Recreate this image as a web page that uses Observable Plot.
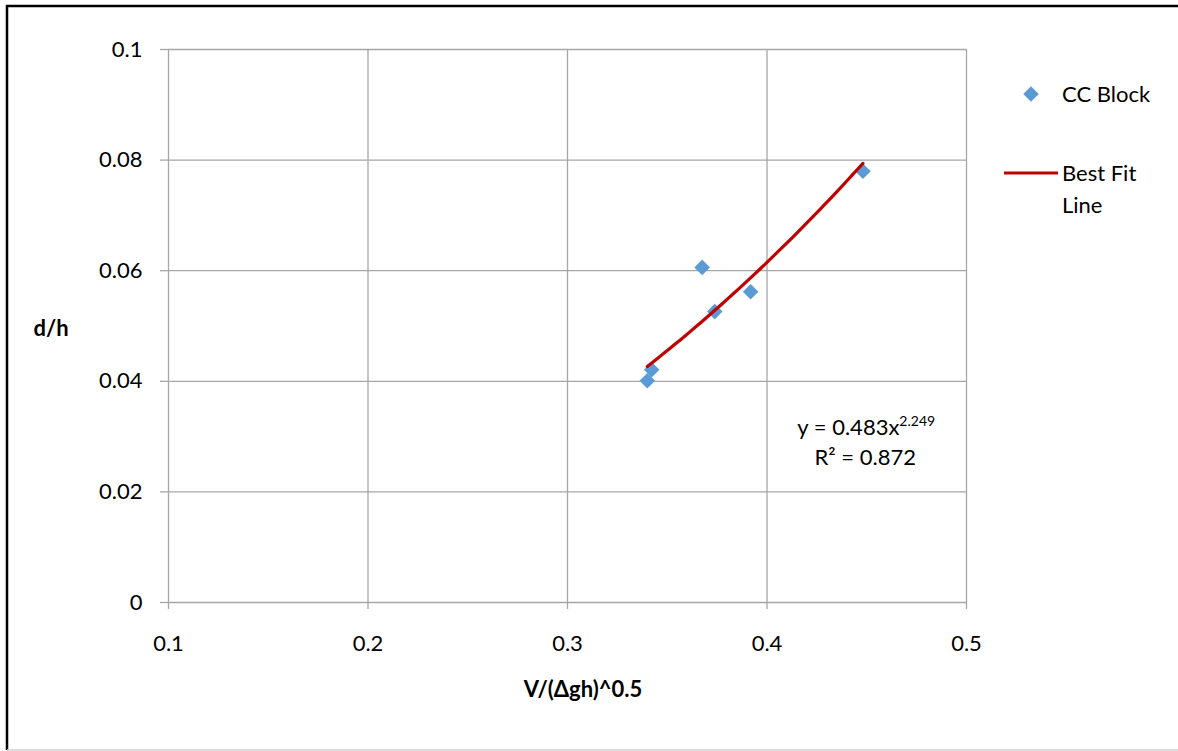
<!DOCTYPE html>
<html>
<head>
<meta charset="utf-8">
<script src="https://cdn.jsdelivr.net/npm/d3@7"></script>
<script src="https://cdn.jsdelivr.net/npm/@observablehq/plot@0.6"></script>
<style>
  html, body { margin: 0; padding: 0; background: #fff; }
  #chart { position: relative; width: 1178px; height: 751px; }
</style>
</head>
<body>
<div id="chart"></div>
<script>
// Measured samples: velocity ratio vs. depth ratio for the CC block
const velocityRatio = [0.340, 0.3422, 0.3675, 0.3738, 0.3918, 0.4481];
const depthRatio    = [0.0401, 0.0421, 0.0606, 0.0526, 0.0562, 0.0780];

// Power-law trendline y = a·x^b, as given in the equation label
const fitA = 0.483;
const fitB = 2.249;
const fitR2 = 0.872;

// Axis ticks
const xTicks = [0.1, 0.2, 0.3, 0.4, 0.5];
const xTickLabels = ["0.1", "0.2", "0.3", "0.4", "0.5"];
const yTicks = [0, 0.02, 0.04, 0.06, 0.08, 0.1];
const yTickLabels = ["0", "0.02", "0.04", "0.06", "0.08", "0.1"];

// Legend entries
const seriesName = "CC Block";
const fitName = ["Best Fit", "Line"];

const points = velocityRatio.map((v, i) => ({x: v, y: depthRatio[i]}));
const [x0, x1] = d3.extent(velocityRatio);
const fitLine = d3.range(0, 41).map(i => {
  const x = x0 + (x1 - x0) * i / 40;
  return {x, y: fitA * Math.pow(x, fitB)};
});

const gridColor = "#a6a6a6";
const font = "Lato, 'Open Sans', sans-serif";
const dotR = 7;

const plot = Plot.plot({
  width: 1178,
  height: 751,
  marginLeft: 168,
  marginRight: 212,
  marginTop: 49,
  marginBottom: 149,
  style: {fontFamily: font, fontSize: "22px", color: "#000", background: "#fff"},
  x: {domain: [0.1, 0.5]},
  y: {domain: [0, 0.1]},
  marks: [
    Plot.gridX(xTicks, {stroke: gridColor, strokeOpacity: 1, strokeWidth: 1.3}),
    Plot.gridY(yTicks, {stroke: gridColor, strokeOpacity: 1, strokeWidth: 1.3}),
    Plot.axisX(xTicks, {
      tickSize: 7, tickPadding: 26, stroke: gridColor, strokeWidth: 1.3,
      tickFormat: (d, i) => xTickLabels[i], label: null, fill: "#000"
    }),
    Plot.axisY(yTicks, {
      tickSize: 8, tickPadding: 18, stroke: gridColor, strokeWidth: 1.3,
      tickFormat: (d, i) => yTickLabels[i], label: null, fill: "#000"
    }),
    Plot.dot(points, {x: "x", y: "y", symbol: "diamond2", r: dotR, fill: "#5b9bd5", stroke: "none"}),
    Plot.line(fitLine, {x: "x", y: "y", stroke: "#c00000", strokeWidth: 3.2})
  ]
});

document.getElementById("chart").appendChild(plot);

const svg = d3.select(plot);
const sx = plot.scale("x");

// Chart frame: dark top and left edges, light bottom edge
svg.append("line").attr("x1", 6).attr("x2", 1178).attr("y1", 6).attr("y2", 6)
  .attr("stroke", "#000").attr("stroke-width", 2.5);
svg.append("line").attr("x1", 7).attr("x2", 7).attr("y1", 5).attr("y2", 750)
  .attr("stroke", "#000").attr("stroke-width", 2.5);
svg.append("line").attr("x1", 7).attr("x2", 1178).attr("y1", 750).attr("y2", 750)
  .attr("stroke", "#d0d0d0").attr("stroke-width", 1.5);

// Axis titles
svg.append("text").attr("x", 51).attr("y", 336)
  .attr("text-anchor", "middle").attr("font-weight", "bold")
  .attr("font-family", font).attr("font-size", 22).text("d/h");
svg.append("text").attr("x", (sx.apply(0.1) + sx.apply(0.5)) / 2 + 16).attr("y", 697)
  .attr("text-anchor", "middle").attr("font-weight", "bold")
  .attr("font-family", font).attr("font-size", 22).text("V/(Δgh)^0.5");

// Trendline equation and R²
const eq = svg.append("text").attr("x", sx.apply(0.45)).attr("y", 435)
  .attr("text-anchor", "middle").attr("font-family", font).attr("font-size", 22);
eq.append("tspan").text(`y = ${fitA}x`);
eq.append("tspan").attr("font-size", 14).attr("dy", -9).text(fitB.toFixed(3));
svg.append("text").attr("x", sx.apply(0.45) - 1).attr("y", 465)
  .attr("text-anchor", "middle").attr("font-family", font).attr("font-size", 22)
  .text(`R² = ${fitR2}`);

// Legend
svg.append("path")
  .attr("d", d3.symbol(d3.symbolDiamond2, Math.PI * dotR * dotR)())
  .attr("transform", "translate(1031,94)").attr("fill", "#5b9bd5");
svg.append("text").attr("x", 1062).attr("y", 102).attr("text-anchor", "start")
  .attr("font-family", font).attr("font-size", 22).text(seriesName);
svg.append("line").attr("x1", 1004).attr("x2", 1058).attr("y1", 173).attr("y2", 173)
  .attr("stroke", "#c00000").attr("stroke-width", 3.2);
fitName.forEach((t, i) => {
  svg.append("text").attr("x", 1062).attr("y", 181 + i * 32).attr("text-anchor", "start")
    .attr("font-family", font).attr("font-size", 22).text(t);
});
</script>
</body>
</html>
